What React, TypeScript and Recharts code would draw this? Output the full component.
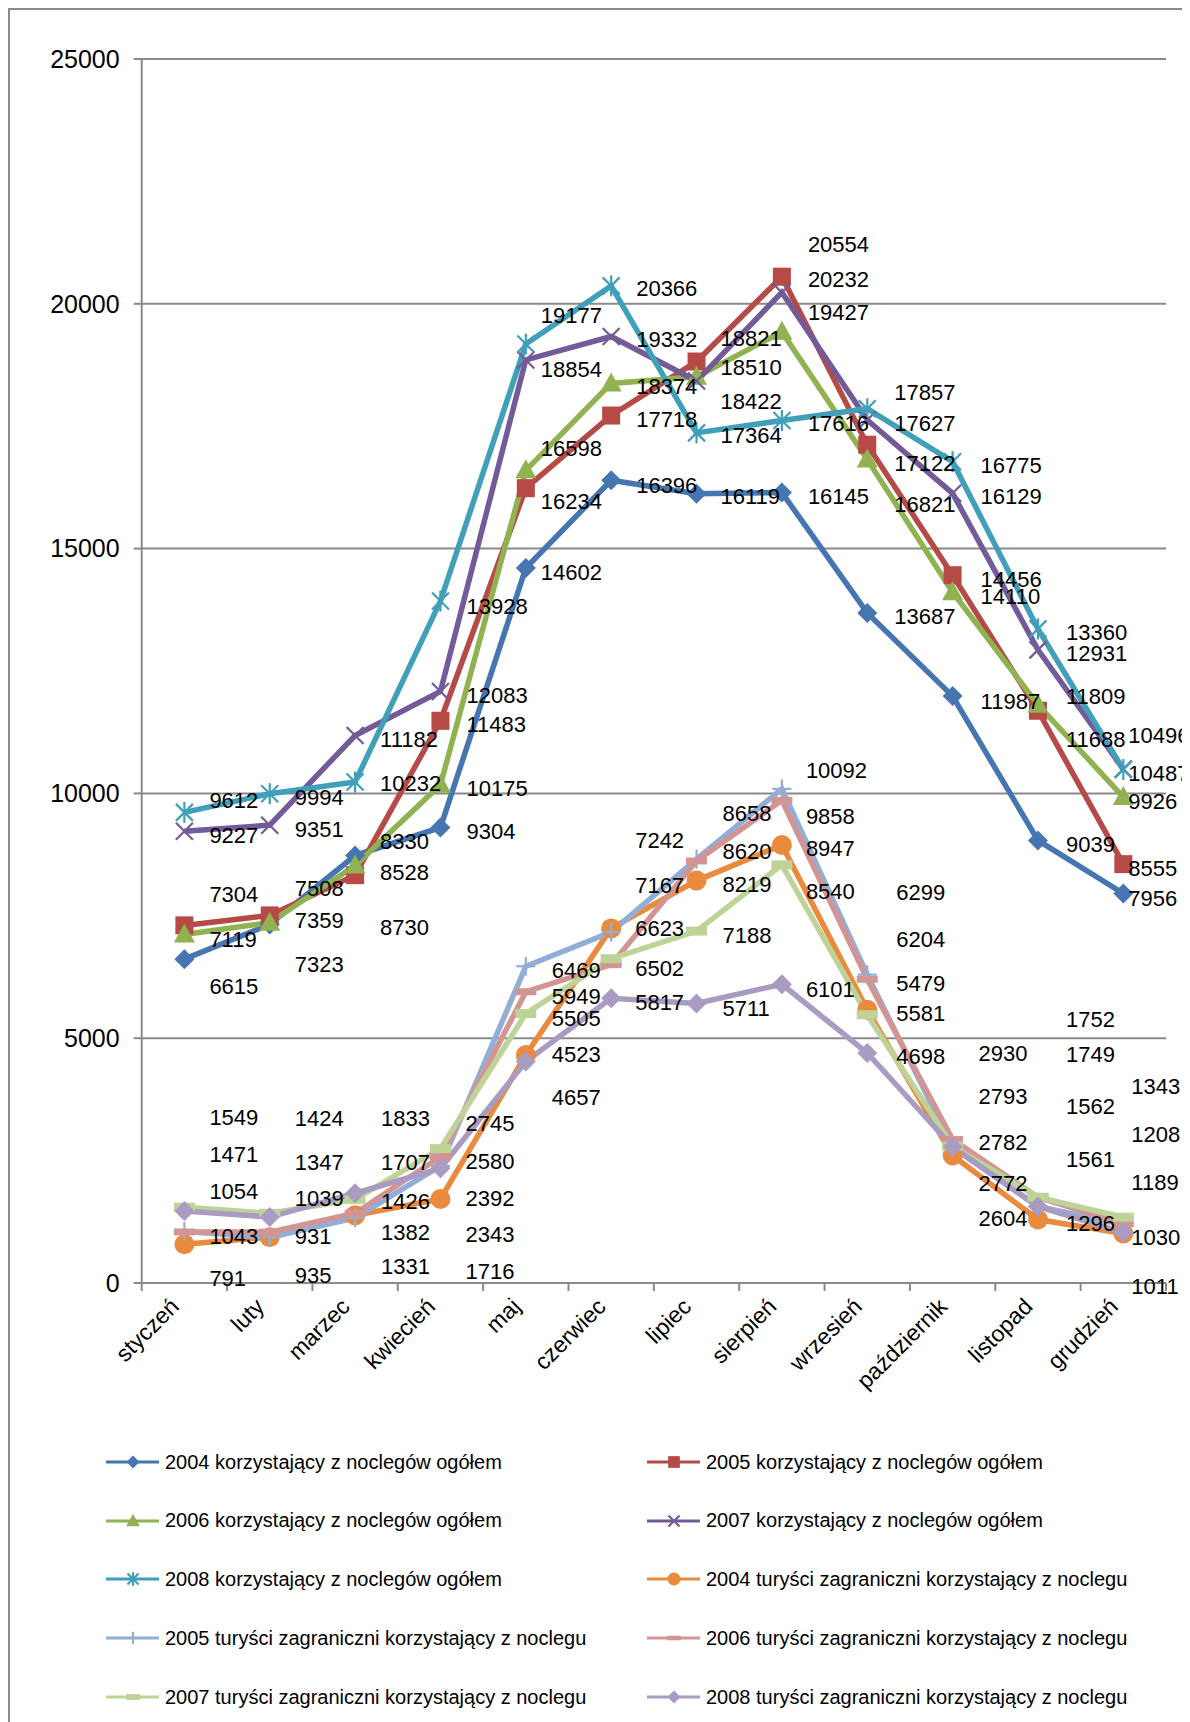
import React from "react";
import { LineChart, Line, XAxis, YAxis, CartesianGrid, LabelList } from "recharts";

const months = [
  "styczeń", "luty", "marzec", "kwiecień", "maj", "czerwiec",
  "lipiec", "sierpień", "wrzesień", "październik", "listopad", "grudzień",
];

// korzystający z noclegów ogółem
const og2004 = [6615, 7323, 8730, 9304, 14602, 16396, 16119, 16145, 13687, 11987, 9039, 7956];
const og2005 = [7304, 7508, 8330, 11483, 16234, 17718, 18821, 20554, 17122, 14456, 11688, 8555];
const og2006 = [7119, 7359, 8528, 10175, 16598, 18374, 18510, 19427, 16821, 14110, 11809, 9926];
const og2007 = [9227, 9351, 11182, 12083, 18854, 19332, 18422, 20232, 17627, 16129, 12931, 10496];
const og2008 = [9612, 9994, 10232, 13928, 19177, 20366, 17364, 17616, 17857, 16775, 13360, 10487];

// turyści zagraniczni korzystający z noclegu
const zag2004 = [791, 935, 1382, 1716, 4657, 7242, 8219, 8947, 5581, 2604, 1296, 1011];
const zag2005 = [1054, 931, 1331, 2392, 6469, 7167, 8658, 10092, 6299, 2772, 1562, 1189];
const zag2006 = [1043, 1039, 1426, 2580, 5949, 6502, 8620, 9858, 6204, 2930, 1749, 1208];
const zag2007 = [1549, 1424, 1707, 2745, 5505, 6623, 7188, 8540, 5479, 2793, 1752, 1343];
const zag2008 = [1471, 1347, 1833, 2343, 4523, 5817, 5711, 6101, 4698, 2782, 1561, 1030];

const yTicks = [0, 5000, 10000, 15000, 20000, 25000];

type Shape = "diamond" | "square" | "triangle" | "x" | "star" | "circle" | "plus" | "dash" | "bar";

const SERIES: { key: string; name: string; color: string; shape: Shape; values: number[]; upper: boolean }[] = [
  { key: "o4", name: "2004 korzystający z noclegów ogółem", color: "#4676B2", shape: "diamond", values: og2004, upper: true },
  { key: "o5", name: "2005 korzystający z noclegów ogółem", color: "#B54A47", shape: "square", values: og2005, upper: true },
  { key: "o6", name: "2006 korzystający z noclegów ogółem", color: "#90B250", shape: "triangle", values: og2006, upper: true },
  { key: "o7", name: "2007 korzystający z noclegów ogółem", color: "#735A98", shape: "x", values: og2007, upper: true },
  { key: "o8", name: "2008 korzystający z noclegów ogółem", color: "#409FB9", shape: "star", values: og2008, upper: true },
  { key: "z4", name: "2004 turyści zagraniczni korzystający z noclegu", color: "#E98A3D", shape: "circle", values: zag2004, upper: false },
  { key: "z5", name: "2005 turyści zagraniczni korzystający z noclegu", color: "#93AED6", shape: "plus", values: zag2005, upper: false },
  { key: "z6", name: "2006 turyści zagraniczni korzystający z noclegu", color: "#D39594", shape: "dash", values: zag2006, upper: false },
  { key: "z7", name: "2007 turyści zagraniczni korzystający z noclegu", color: "#BDD397", shape: "bar", values: zag2007, upper: false },
  { key: "z8", name: "2008 turyści zagraniczni korzystający z noclegu", color: "#A99BC2", shape: "diamond", values: zag2008, upper: false },
];

// label placement (px), the original labels were hand-moved in places
const LABEL_DY: Record<string, number[]> = {
  o4: [27, 40, 72, 4, 4, 5, 3, 4, 4, 5, 4, 5],
  o5: [-31, -27, -34, 4, 13, 4, -23, -32, 19, 4, 29, 4],
  o6: [5, -2, 7, 4, -22, 3, -9, -19, 45, 4, -8, 4],
  o7: [4, 4, 4, 4, 10, 3, 20, -13, 4, 3, 4, -34],
  o8: [-12, 4, 1, 5, -29, 3, 3, 3, -16, 4, 4, 4],
  z4: [34, 38, 17, 73, 43, -88, 4, 4, 4, 63, 4, 53],
  z5: [-40, -1, 49, 33, 4, -47, -46, -18, -82, 36, -100, -42],
  z6: [5, -34, -12, 5, 5, 4, -9, 16, -40, -86, -143, -89],
  z7: [-90, -95, -37, -25, 5, -30, 4, 27, -31, -50, -178, -131],
  z8: [-56, -55, -75, 66, -7, 4, 5, 5, 4, -4, -47, 5],
};
const DX_UPPER = [25, 25, 25, 26, 15, 25, 24, 26, 27, 28, 28, 5];
const DX_LOWER = [25, 25, 26, 25, 26, 24, 26, 24, 29, 26, 28, 8];

const FONT = "'Liberation Sans', Arial, sans-serif";
const AXIS_GRAY = "#8a8a8a";

const CHART_W = 1178;
const CHART_H = 1420;
const PLOT_LEFT = 131.7;
const PLOT_RIGHT = 1156;
const HALF_BAND = (PLOT_RIGHT - PLOT_LEFT) / months.length / 2;

const data = months.map((m, i) => {
  const row: Record<string, string | number> = { month: m };
  SERIES.forEach((s) => {
    row[s.key] = s.values[i];
  });
  return row;
});

function Marker({ shape, color, cx, cy, scale = 1 }: { shape: Shape; color: string; cx: number; cy: number; scale?: number }) {
  const k = scale;
  switch (shape) {
    case "diamond":
      return <polygon points={`${cx},${cy - 10 * k} ${cx + 10 * k},${cy} ${cx},${cy + 10 * k} ${cx - 10 * k},${cy}`} fill={color} />;
    case "square":
      return <rect x={cx - 9 * k} y={cy - 9 * k} width={18 * k} height={18 * k} fill={color} />;
    case "triangle":
      return <polygon points={`${cx},${cy - 11 * k} ${cx + 10.5 * k},${cy + 8 * k} ${cx - 10.5 * k},${cy + 8 * k}`} fill={color} />;
    case "circle":
      return <circle cx={cx} cy={cy} r={10 * k} fill={color} />;
    case "x":
      return (
        <g stroke={color} strokeWidth={2.2}>
          <line x1={cx - 8.5 * k} y1={cy - 8.5 * k} x2={cx + 8.5 * k} y2={cy + 8.5 * k} />
          <line x1={cx - 8.5 * k} y1={cy + 8.5 * k} x2={cx + 8.5 * k} y2={cy - 8.5 * k} />
        </g>
      );
    case "star":
      return (
        <g stroke={color} strokeWidth={2.2}>
          <line x1={cx - 8.5 * k} y1={cy - 8.5 * k} x2={cx + 8.5 * k} y2={cy + 8.5 * k} />
          <line x1={cx - 8.5 * k} y1={cy + 8.5 * k} x2={cx + 8.5 * k} y2={cy - 8.5 * k} />
          <line x1={cx} y1={cy - 10.5 * k} x2={cx} y2={cy + 10.5 * k} />
        </g>
      );
    case "plus":
      return (
        <g stroke={color} strokeWidth={2.2}>
          <line x1={cx - 9.5 * k} y1={cy} x2={cx + 9.5 * k} y2={cy} />
          <line x1={cx} y1={cy - 9.5 * k} x2={cx} y2={cy + 9.5 * k} />
        </g>
      );
    case "dash":
      return <rect x={cx - 10.5 * k} y={cy - 3.5 * k} width={21 * k} height={7 * k} fill={color} />;
    case "bar":
      return <rect x={cx - 10.5 * k} y={cy - 4.5 * k} width={21 * k} height={9 * k} fill={color} />;
  }
  return null;
}

function XTick(props: any) {
  const { x, y, payload, index } = props;
  const ax = x - 4;
  const ay = y + 25;
  return (
    <g>
      <line x1={x - HALF_BAND} x2={x - HALF_BAND} y1={y} y2={y + 8} stroke={AXIS_GRAY} strokeWidth={2} />
      {index === months.length - 1 && (
        <line x1={x + HALF_BAND} x2={x + HALF_BAND} y1={y} y2={y + 8} stroke={AXIS_GRAY} strokeWidth={2} />
      )}
      <text
        x={ax}
        y={ay}
        transform={`rotate(-45 ${ax} ${ay})`}
        textAnchor="end"
        fontSize={23}
        fontFamily={FONT}
        fill="#000"
      >
        {payload.value}
      </text>
    </g>
  );
}

function makeLabel(key: string, upper: boolean) {
  return (props: any) => {
    const { index, value } = props;
    const px = props.x ?? props.viewBox?.x;
    const py = props.y ?? props.viewBox?.y;
    if (px == null || py == null) return null;
    const dx = (upper ? DX_UPPER : DX_LOWER)[index];
    const dy = LABEL_DY[key][index];
    return (
      <text
        key={`${key}-l-${index}`}
        x={px + dx}
        y={py + dy}
        dominantBaseline="central"
        fontSize={22}
        fontFamily={FONT}
        fill="#000"
      >
        {value}
      </text>
    );
  };
}

function LegendItem({ s, left, top }: { s: (typeof SERIES)[number]; left: number; top: number }) {
  return (
    <div style={{ position: "absolute", left, top, height: 24, display: "flex", alignItems: "center" }}>
      <svg width={53} height={24}>
        <line x1={0} x2={53} y1={12} y2={12} stroke={s.color} strokeWidth={3} />
        <Marker shape={s.shape} color={s.color} cx={27} cy={12} scale={0.65} />
      </svg>
      <span style={{ marginLeft: 6, fontFamily: FONT, fontSize: 20, color: "#000", whiteSpace: "nowrap" }}>
        {s.name}
      </span>
    </div>
  );
}

export default function App() {
  const rowsY = [1462, 1520.5, 1579, 1638, 1697];
  const colsX = [106, 647];
  return (
    <>
      <style>{`html,body{overflow:hidden;} .recharts-surface{overflow:visible;}`}</style>
      <div
        style={{
          position: "relative",
          width: 1180,
          height: 1760,
          boxSizing: "border-box",
          border: `2px solid ${AXIS_GRAY}`,
          background: "#fff",
        }}
      >
        <LineChart
          width={CHART_W}
          height={CHART_H}
          data={data}
          margin={{ top: 49, right: CHART_W - PLOT_RIGHT, left: 0, bottom: 0 }}
        >
          <CartesianGrid vertical={false} stroke={AXIS_GRAY} strokeWidth={2} />
          <XAxis
            dataKey="month"
            interval={0}
            height={CHART_H - 49 - 1224}
            padding={{ left: HALF_BAND, right: HALF_BAND }}
            axisLine={{ stroke: AXIS_GRAY, strokeWidth: 2 }}
            tickLine={false}
            tickSize={0}
            tickMargin={0}
            tick={<XTick />}
          />
          <YAxis
            width={PLOT_LEFT}
            domain={[0, 25000]}
            ticks={yTicks}
            interval={0}
            axisLine={{ stroke: AXIS_GRAY, strokeWidth: 2 }}
            tickLine={{ stroke: AXIS_GRAY, strokeWidth: 2 }}
            tickSize={8}
            tickMargin={14}
            tick={{ fontSize: 25, fill: "#000", fontFamily: FONT }}
          />
          {SERIES.map((s) => (
            <Line
              key={s.key}
              dataKey={s.key}
              name={s.name}
              type="linear"
              stroke={s.color}
              strokeWidth={5.5}
              isAnimationActive={false}
              dot={(p: any) => <Marker key={`${s.key}-d-${p.index}`} shape={s.shape} color={s.color} cx={p.cx} cy={p.cy} />}
              activeDot={false}
            >
              <LabelList dataKey={s.key} content={makeLabel(s.key, s.upper)} />
            </Line>
          ))}
        </LineChart>
        {SERIES.map((s, i) => (
          <LegendItem
            key={s.key}
            s={s}
            left={colsX[i % 2] - 10}
            top={rowsY[Math.floor(i / 2)] - 10 - 12}
          />
        ))}
      </div>
    </>
  );
}
